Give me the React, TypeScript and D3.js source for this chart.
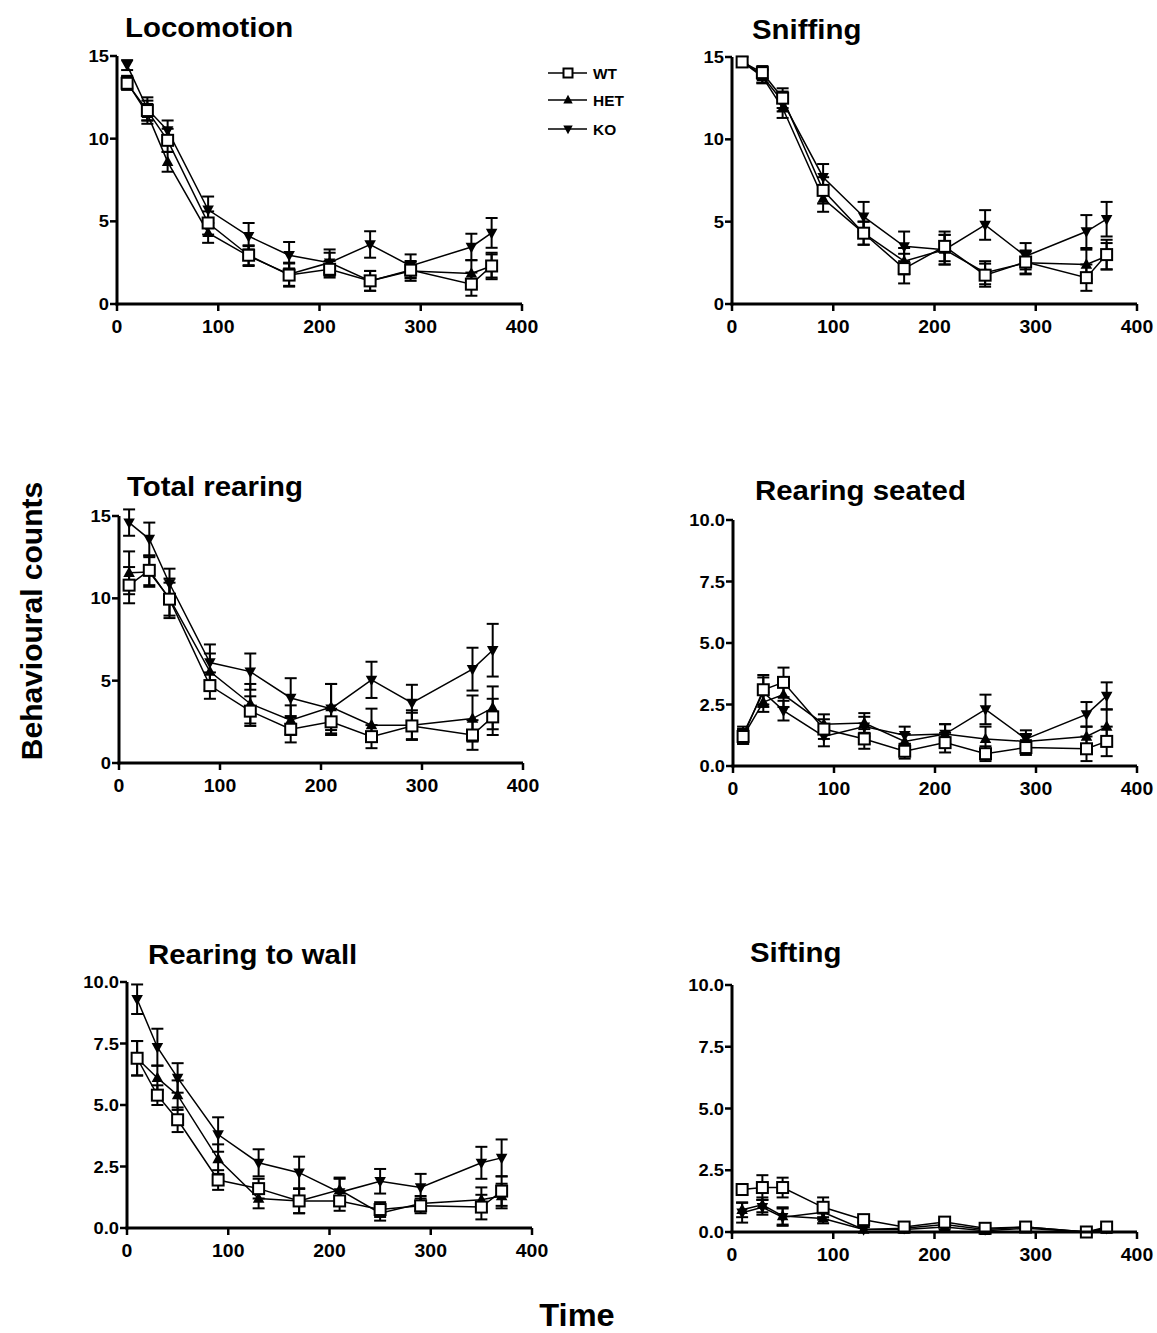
import React from "react";
import * as d3 from "d3";

const times = [10, 30, 50, 90, 130, 170, 210, 250, 290, 350, 370];
const seriesNames = ["WT", "HET", "KO"];
const xTicks = [0, 100, 200, 300, 400];
const yTicks15 = [0, 5, 10, 15];
const yTicks10 = [0, 2.5, 5, 7.5, 10];

// Locomotion
const locoWT = [13.35, 11.7, 9.9, 4.9, 2.95, 1.75, 2.1, 1.4, 2.05, 1.2, 2.3];
const locoHET = [13.4, 11.5, 8.6, 4.3, 2.9, 1.8, 2.5, 1.4, 2.0, 1.85, 2.3];
const locoKO = [14.45, 11.8, 10.5, 5.7, 4.1, 2.95, 2.5, 3.6, 2.3, 3.45, 4.3];
const locoWTerr = [0.4, 0.6, 0.7, 0.7, 0.6, 0.7, 0.5, 0.6, 0.5, 0.7, 0.7];
const locoHETerr = [0.4, 0.6, 0.6, 0.6, 0.6, 0.7, 0.6, 0.6, 0.6, 0.8, 0.8];
const locoKOerr = [0.3, 0.7, 0.6, 0.8, 0.8, 0.8, 0.8, 0.8, 0.7, 0.8, 0.9];

// Sniffing
const sniffWT = [14.7, 14.05, 12.5, 6.9, 4.3, 2.15, 3.5, 1.75, 2.55, 1.6, 3.0];
const sniffHET = [14.7, 13.8, 11.9, 6.4, 4.3, 2.6, 3.3, 1.9, 2.5, 2.4, 2.9];
const sniffKO = [14.8, 13.85, 12.3, 7.7, 5.3, 3.5, 3.3, 4.8, 2.9, 4.4, 5.15];
const sniffWTerr = [0.3, 0.4, 0.6, 0.8, 0.7, 0.9, 0.9, 0.7, 0.7, 0.8, 0.9];
const sniffHETerr = [0.3, 0.4, 0.6, 0.8, 0.7, 0.8, 0.9, 0.7, 0.7, 0.9, 0.8];
const sniffKOerr = [0.2, 0.4, 0.6, 0.8, 0.9, 0.9, 0.9, 0.9, 0.8, 1.0, 1.05];

// Total rearing
const totWT = [10.8, 11.7, 9.95, 4.7, 3.15, 2.05, 2.5, 1.6, 2.25, 1.7, 2.8];
const totHET = [11.55, 11.6, 10.0, 5.55, 3.6, 2.6, 3.4, 2.3, 2.3, 2.7, 3.35];
const totKO = [14.6, 13.6, 10.9, 6.1, 5.55, 3.95, 3.3, 5.05, 3.65, 5.7, 6.85];
const totWTerr = [1.1, 0.9, 1.0, 0.8, 0.9, 0.8, 0.8, 0.7, 0.8, 0.9, 1.1];
const totHETerr = [1.3, 0.9, 1.2, 1.1, 1.2, 0.9, 1.4, 1.0, 0.9, 1.4, 1.3];
const totKOerr = [0.8, 1.0, 0.9, 1.1, 1.1, 1.2, 1.5, 1.1, 1.1, 1.3, 1.6];

// Rearing seated
const seatWT = [1.2, 3.1, 3.4, 1.5, 1.1, 0.6, 0.95, 0.5, 0.75, 0.7, 1.0];
const seatHET = [1.2, 2.6, 2.9, 1.7, 1.75, 1.0, 1.3, 1.1, 1.0, 1.2, 1.6];
const seatKO = [1.3, 3.0, 2.25, 1.2, 1.6, 1.25, 1.3, 2.3, 1.1, 2.1, 2.85];
const seatWTerr = [0.3, 0.6, 0.6, 0.4, 0.4, 0.3, 0.4, 0.3, 0.3, 0.5, 0.6];
const seatHETerr = [0.3, 0.4, 0.5, 0.4, 0.4, 0.3, 0.4, 0.5, 0.3, 0.4, 0.7];
const seatKOerr = [0.3, 0.6, 0.4, 0.4, 0.4, 0.35, 0.4, 0.6, 0.35, 0.5, 0.55];

// Rearing to wall
const wallWT = [6.9, 5.4, 4.4, 1.95, 1.6, 1.1, 1.1, 0.75, 0.9, 0.85, 1.5];
const wallHET = [6.9, 6.1, 5.4, 2.8, 1.2, 1.1, 1.55, 0.6, 1.0, 1.15, 1.3];
const wallKO = [9.3, 7.35, 6.1, 3.8, 2.65, 2.25, 1.45, 1.9, 1.65, 2.65, 2.85];
const wallWTerr = [0.7, 0.4, 0.5, 0.4, 0.4, 0.5, 0.4, 0.3, 0.3, 0.5, 0.6];
const wallHETerr = [0.7, 0.5, 0.6, 0.6, 0.4, 0.5, 0.5, 0.3, 0.3, 0.5, 0.5];
const wallKOerr = [0.6, 0.75, 0.6, 0.7, 0.55, 0.65, 0.55, 0.5, 0.55, 0.65, 0.75];

// Sifting
const siftWT = [1.72, 1.8, 1.8, 1.0, 0.5, 0.2, 0.4, 0.15, 0.2, 0.0, 0.2];
const siftHET = [0.9, 1.1, 0.65, 0.55, 0.1, 0.1, 0.2, 0.05, 0.15, 0.0, 0.1];
const siftKO = [0.78, 1.0, 0.6, 0.8, 0.1, 0.15, 0.3, 0.1, 0.2, 0.0, 0.15];
const siftWTerr = [0.2, 0.5, 0.4, 0.4, 0.1, 0.1, 0.1, 0.1, 0.1, 0.05, 0.1];
const siftHETerr = [0.3, 0.3, 0.35, 0.2, 0.1, 0.05, 0.1, 0.05, 0.05, 0.03, 0.05];
const siftKOerr = [0.4, 0.3, 0.35, 0.3, 0.1, 0.05, 0.1, 0.05, 0.05, 0.03, 0.05];

type Panel = {
  title: string;
  titleX: number;
  titleY: number;
  left: number;
  right: number;
  top: number;
  bottom: number;
  yMax: number;
  yTicks: number[];
  fmt: (v: number) => string;
  values: number[][];
  errs: number[][];
};

const intFmt = d3.format("d");
const decFmt = d3.format(".1f");

const panels: Panel[] = [
  { title: "Locomotion", titleX: 125, titleY: 37, left: 117, right: 522, top: 56, bottom: 304, yMax: 15, yTicks: yTicks15, fmt: intFmt, values: [locoWT, locoHET, locoKO], errs: [locoWTerr, locoHETerr, locoKOerr] },
  { title: "Sniffing", titleX: 752, titleY: 39, left: 732, right: 1137, top: 57, bottom: 304, yMax: 15, yTicks: yTicks15, fmt: intFmt, values: [sniffWT, sniffHET, sniffKO], errs: [sniffWTerr, sniffHETerr, sniffKOerr] },
  { title: "Total rearing", titleX: 127, titleY: 496, left: 119, right: 523, top: 516, bottom: 763, yMax: 15, yTicks: yTicks15, fmt: intFmt, values: [totWT, totHET, totKO], errs: [totWTerr, totHETerr, totKOerr] },
  { title: "Rearing seated", titleX: 755, titleY: 500, left: 733, right: 1137, top: 520, bottom: 766, yMax: 10, yTicks: yTicks10, fmt: decFmt, values: [seatWT, seatHET, seatKO], errs: [seatWTerr, seatHETerr, seatKOerr] },
  { title: "Rearing to wall", titleX: 148, titleY: 964, left: 127, right: 532, top: 982, bottom: 1228, yMax: 10, yTicks: yTicks10, fmt: decFmt, values: [wallWT, wallHET, wallKO], errs: [wallWTerr, wallHETerr, wallKOerr] },
  { title: "Sifting", titleX: 750, titleY: 962, left: 732, right: 1137, top: 985, bottom: 1232, yMax: 10, yTicks: yTicks10, fmt: decFmt, values: [siftWT, siftHET, siftKO], errs: [siftWTerr, siftHETerr, siftKOerr] },
];

const FONT = "'Liberation Sans', Arial, Helvetica, sans-serif";

function Txt({
  x,
  y,
  size,
  anchor = "start",
  sx = 1.08,
  children,
}: {
  x: number;
  y: number;
  size: number;
  anchor?: string;
  sx?: number;
  children: React.ReactNode;
}) {
  return (
    <text
      transform={`translate(${x},${y}) scale(${sx},1)`}
      textAnchor={anchor}
      fontFamily={FONT}
      fontWeight="bold"
      fontSize={size}
      fill="#000"
    >
      {children}
    </text>
  );
}

function Marker({ kind, x, y, s }: { kind: number; x: number; y: number; s: number }) {
  if (kind === 0) {
    return <rect x={x - s / 2} y={y - s / 2} width={s} height={s} fill="#fff" stroke="#000" strokeWidth={2} />;
  }
  const h = s * 0.95;
  const w = s * 1.05;
  if (kind === 1) {
    return <path d={`M${x},${y - h * 0.6}L${x + w / 2},${y + h * 0.4}L${x - w / 2},${y + h * 0.4}Z`} fill="#000" />;
  }
  return <path d={`M${x},${y + h * 0.6}L${x + w / 2},${y - h * 0.4}L${x - w / 2},${y - h * 0.4}Z`} fill="#000" />;
}

function PanelView({ p }: { p: Panel }) {
  const x = d3.scaleLinear().domain([0, 400]).range([p.left, p.right]);
  const y = d3.scaleLinear().domain([0, p.yMax]).range([p.bottom, p.top]);
  const line = d3
    .line<number>()
    .x((_, i) => x(times[i]))
    .y((v) => y(v));
  const order = [2, 1, 0];
  return (
    <g>
      <Txt x={p.titleX} y={p.titleY} size={27} sx={1.09}>
        {p.title}
      </Txt>
      {order.map((si) => (
        <path key={"l" + si} d={line(p.values[si]) || ""} fill="none" stroke="#000" strokeWidth={1.5} />
      ))}
      {order.map((si) => (
        <g key={"e" + si}>
          {p.values[si].map((v, i) => {
            const cx = x(times[i]);
            const hi = y(v + p.errs[si][i]);
            const lo = y(Math.max(0, v - p.errs[si][i]));
            return (
              <g key={i} stroke="#000" strokeWidth={2}>
                <line x1={cx} x2={cx} y1={hi} y2={lo} />
                <line x1={cx - 6} x2={cx + 6} y1={hi} y2={hi} />
                <line x1={cx - 6} x2={cx + 6} y1={lo} y2={lo} />
              </g>
            );
          })}
        </g>
      ))}
      {order.map((si) => (
        <g key={"m" + si}>
          {p.values[si].map((v, i) => (
            <Marker key={i} kind={si} x={x(times[i])} y={y(v)} s={11} />
          ))}
        </g>
      ))}
      {/* axes */}
      <line x1={p.left} x2={p.left} y1={p.top} y2={p.bottom + 1.5} stroke="#000" strokeWidth={3} />
      <line x1={p.left - 1.5} x2={p.right} y1={p.bottom} y2={p.bottom} stroke="#000" strokeWidth={3} />
      {p.yTicks.map((t) => (
        <g key={"yt" + t}>
          <line x1={p.left - 7} x2={p.left} y1={y(t)} y2={y(t)} stroke="#000" strokeWidth={2.5} />
          <Txt x={p.left - 8} y={y(t) + 6} size={17} anchor="end">
            {p.fmt(t)}
          </Txt>
        </g>
      ))}
      {xTicks.map((t) => (
        <g key={"xt" + t}>
          <line x1={x(t)} x2={x(t)} y1={p.bottom} y2={p.bottom + 7} stroke="#000" strokeWidth={2.5} />
          <Txt x={x(t)} y={p.bottom + 29} size={18} anchor="middle">
            {intFmt(t)}
          </Txt>
        </g>
      ))}
    </g>
  );
}

export default function App() {
  const legendY = [73, 100, 129];
  return (
    <div style={{ position: "absolute", left: 0, top: 0 }}>
      <svg width={1157} height={1333} viewBox="0 0 1157 1333" style={{ display: "block", background: "#fff" }}>
        <rect width={1157} height={1333} fill="#fff" />
        {panels.map((p) => (
          <PanelView key={p.title} p={p} />
        ))}
        {seriesNames.map((n, i) => (
          <g key={n}>
            <line x1={548} x2={587} y1={legendY[i]} y2={legendY[i]} stroke="#000" strokeWidth={1.5} />
            <Marker kind={i} x={568} y={legendY[i]} s={9} />
            <Txt x={593} y={legendY[i] + 5.5} size={15} sx={1.03}>
              {n}
            </Txt>
          </g>
        ))}
        <text
          transform="translate(42,621) rotate(-90)"
          textAnchor="middle"
          fontFamily={FONT}
          fontWeight="bold"
          fontSize={30}
        >
          Behavioural counts
        </text>
        <Txt x={577} y={1326} size={31} anchor="middle" sx={1.05}>
          Time
        </Txt>
      </svg>
    </div>
  );
}
